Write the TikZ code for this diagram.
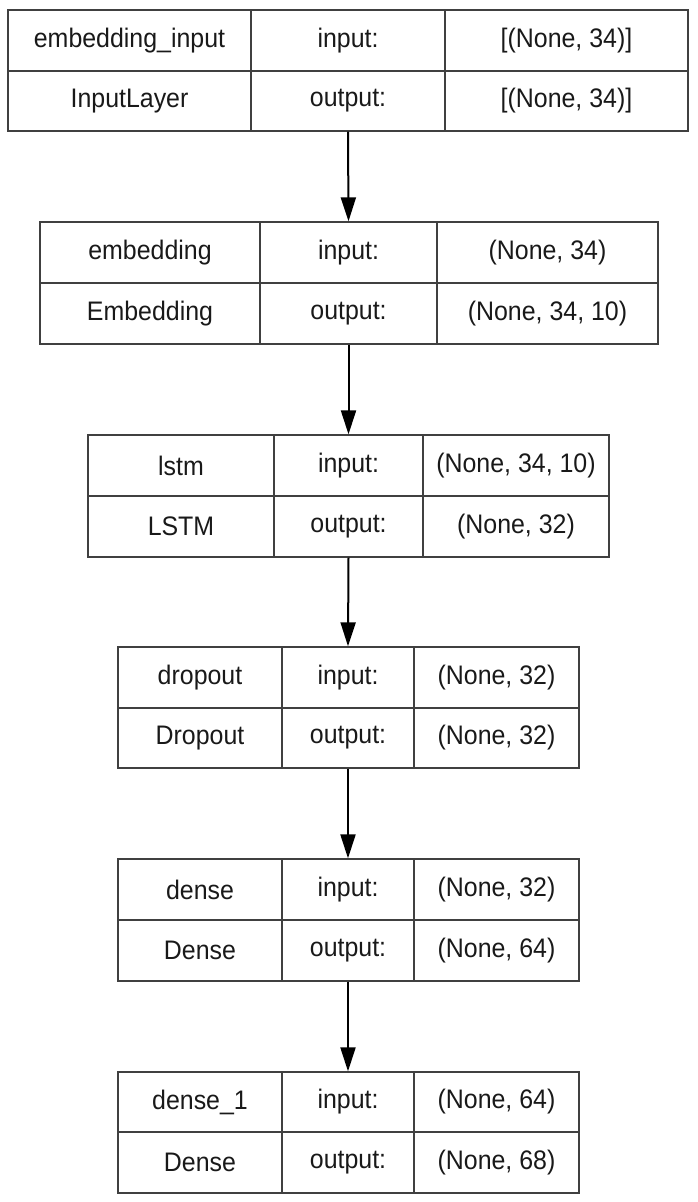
\documentclass[tikz,border=0pt]{standalone}
\usepackage{fontspec}
\setmainfont[FakeStretch=0.93]{Liberation Sans}
\usetikzlibrary{arrows.meta}
\tikzset{
  cell/.style={draw=black!75, line width=1.3pt, rectangle, inner sep=0pt, font=\fontsize{26.8}{30}\selectfont, text=black!90},
  flow/.style={line width=2pt, -{Triangle[length=24pt,width=15pt]}}
}
\newcommand{\mycell}[6]{%
  \node[cell, minimum width={(#3-#2)*1pt}, minimum height={(#5-#4)*1pt}] (#1) at ({(#2+#3)/2},{(#4+#5)/2}) {#6};}
\begin{document}
\begin{tikzpicture}[x=1pt,y=-1pt]
\useasboundingbox (0,0) rectangle (697,1202);
% layer 1
\mycell{a1}{8}{251}{10}{71}{embedding\_input}
\mycell{a2}{251}{445}{10}{71}{input:}
\mycell{a3}{445}{688}{10}{71}{[(None, 34)]}
\mycell{a4}{8}{251}{71}{131}{InputLayer}
\mycell{a5}{251}{445}{71}{131}{output:}
\mycell{a6}{445}{688}{71}{131}{[(None, 34)]}
% layer 2
\mycell{b1}{40}{260}{222}{283}{embedding}
\mycell{b2}{260}{437}{222}{283}{input:}
\mycell{b3}{437}{658}{222}{283}{(None, 34)}
\mycell{b4}{40}{260}{283}{344}{Embedding}
\mycell{b5}{260}{437}{283}{344}{output:}
\mycell{b6}{437}{658}{283}{344}{(None, 34, 10)}
% layer 3
\mycell{c1}{88}{274}{435}{496}{lstm}
\mycell{c2}{274}{423}{435}{496}{input:}
\mycell{c3}{423}{609}{435}{496}{(None, 34, 10)}
\mycell{c4}{88}{274}{496}{557}{LSTM}
\mycell{c5}{274}{423}{496}{557}{output:}
\mycell{c6}{423}{609}{496}{557}{(None, 32)}
% layer 4
\mycell{d1}{118}{282}{647}{708}{dropout}
\mycell{d2}{282}{414}{647}{708}{input:}
\mycell{d3}{414}{579}{647}{708}{(None, 32)}
\mycell{d4}{118}{282}{708}{768}{Dropout}
\mycell{d5}{282}{414}{708}{768}{output:}
\mycell{d6}{414}{579}{708}{768}{(None, 32)}
% layer 5
\mycell{e1}{118}{282}{859}{920}{dense}
\mycell{e2}{282}{414}{859}{920}{input:}
\mycell{e3}{414}{579}{859}{920}{(None, 32)}
\mycell{e4}{118}{282}{920}{981}{Dense}
\mycell{e5}{282}{414}{920}{981}{output:}
\mycell{e6}{414}{579}{920}{981}{(None, 64)}
% layer 6
\mycell{f1}{118}{282}{1072}{1132}{dense\_1}
\mycell{f2}{282}{414}{1072}{1132}{input:}
\mycell{f3}{414}{579}{1072}{1132}{(None, 64)}
\mycell{f4}{118}{282}{1132}{1193}{Dense}
\mycell{f5}{282}{414}{1132}{1193}{output:}
\mycell{f6}{414}{579}{1132}{1193}{(None, 68)}
% arrows
\draw[flow] (a5.south) -- (b2.north);
\draw[flow] (b5.south) -- (c2.north);
\draw[flow] (c5.south) -- (d2.north);
\draw[flow] (d5.south) -- (e2.north);
\draw[flow] (e5.south) -- (f2.north);
\end{tikzpicture}
\end{document}
